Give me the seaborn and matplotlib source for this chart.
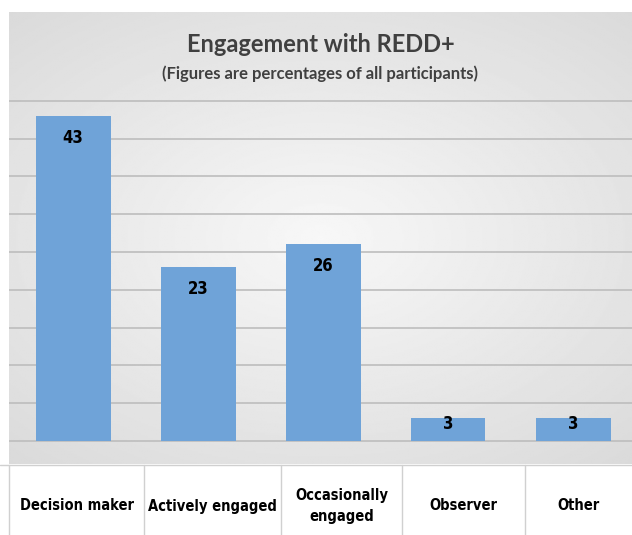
import numpy as np
import matplotlib
matplotlib.use("Agg")
import matplotlib.pyplot as plt
import seaborn as sns
import pandas as pd

categories = ["Decision maker", "Actively engaged", "Occasionally\nengaged", "Observer", "Other"]
values = [43, 23, 26, 3, 3]
title = "Engagement with REDD+"
subtitle = "(Figures are percentages of all participants)"

sns.set_theme(style="white")
plt.rcParams["font.family"] = ["Lato", "DejaVu Sans"]

W, H = 632, 535
fig = plt.figure(figsize=(W / 100, H / 100), dpi=100)

# main chart area (pixel box 9..632 x 12..464)
ax = fig.add_axes([9 / W, (H - 464) / H, (W - 9) / W, (464 - 12) / H])

# radial gray gradient background
yy, xx = np.mgrid[-1:1:300j, -1:1:400j]
r = np.sqrt((xx * 0.9) ** 2 + (yy * 1.0) ** 2)
ax.imshow(0.97 - 0.12 * np.clip(r, 0, 1.4) / 1.4, cmap="gray", vmin=0, vmax=1,
          extent=[0, 1, 0, 1], transform=ax.transAxes, aspect="auto", zorder=0)

df = pd.DataFrame({"cat": range(len(values)), "val": values})
px_per_unit = (441 - 116) / 43
x_unit = 125
xmin = -(73 - 9) / x_unit
ymin = -(464 - 441) / px_per_unit
ymax = (441 - 12) / px_per_unit

for g in range(0, 50, 5):
    ax.axhline(g, color="#bdbdbd", lw=1.2, zorder=1)

sns.barplot(data=df, x="cat", y="val", color="#6fa3d8", saturation=1,
            width=0.6, ax=ax, zorder=2, native_scale=True, edgecolor="none",
            linewidth=0)

for i, v in enumerate(values):
    y = v - 2.9 if v > 6 else v * 0.75
    ax.text(i, y, str(v), ha="center", va="center", fontsize=12,
            fontweight="bold", color="black", zorder=3,
            family=["DejaVu Sans"], fontstretch="condensed")

ax.set_xlim(xmin, xmin + (W - 9) / x_unit)
ax.set_ylim(ymin, ymax)
ax.set_xticks([])
ax.set_yticks([])
ax.set_xlabel("")
ax.set_ylabel("")
for s in ax.spines.values():
    s.set_visible(False)

ax.text(0.5, (ymax - (45 - 12) / px_per_unit - ymin) / (ymax - ymin), title,
        transform=ax.transAxes, ha="center", va="center", fontsize=17,
        fontweight="bold", color="#404040")
ax.text(0.5, (ymax - (74 - 12) / px_per_unit - ymin) / (ymax - ymin), subtitle,
        transform=ax.transAxes, ha="center", va="center", fontsize=12,
        fontweight="bold", color="#404040")

# category table underneath
tab = fig.add_axes([0, 0, 1, (H - 464) / H])
tab.set_xlim(0, W)
tab.set_ylim(535, 464)
tab.axis("off")
edges = [9, 144, 281, 402, 525, 632]
tab.axhline(465, color="#d0d0d0", lw=1)
for e in edges[:-1]:
    tab.plot([e, e], [465, 535], color="#d0d0d0", lw=1)
for i, c in enumerate(categories):
    tab.text((edges[i] + edges[i + 1]) / 2, 506, c, ha="center", va="center",
             fontsize=10.5, fontweight="bold", color="black",
             family=["DejaVu Sans"], fontstretch="condensed", linespacing=1.5)

fig.savefig("out.png", dpi=100, facecolor="white")
